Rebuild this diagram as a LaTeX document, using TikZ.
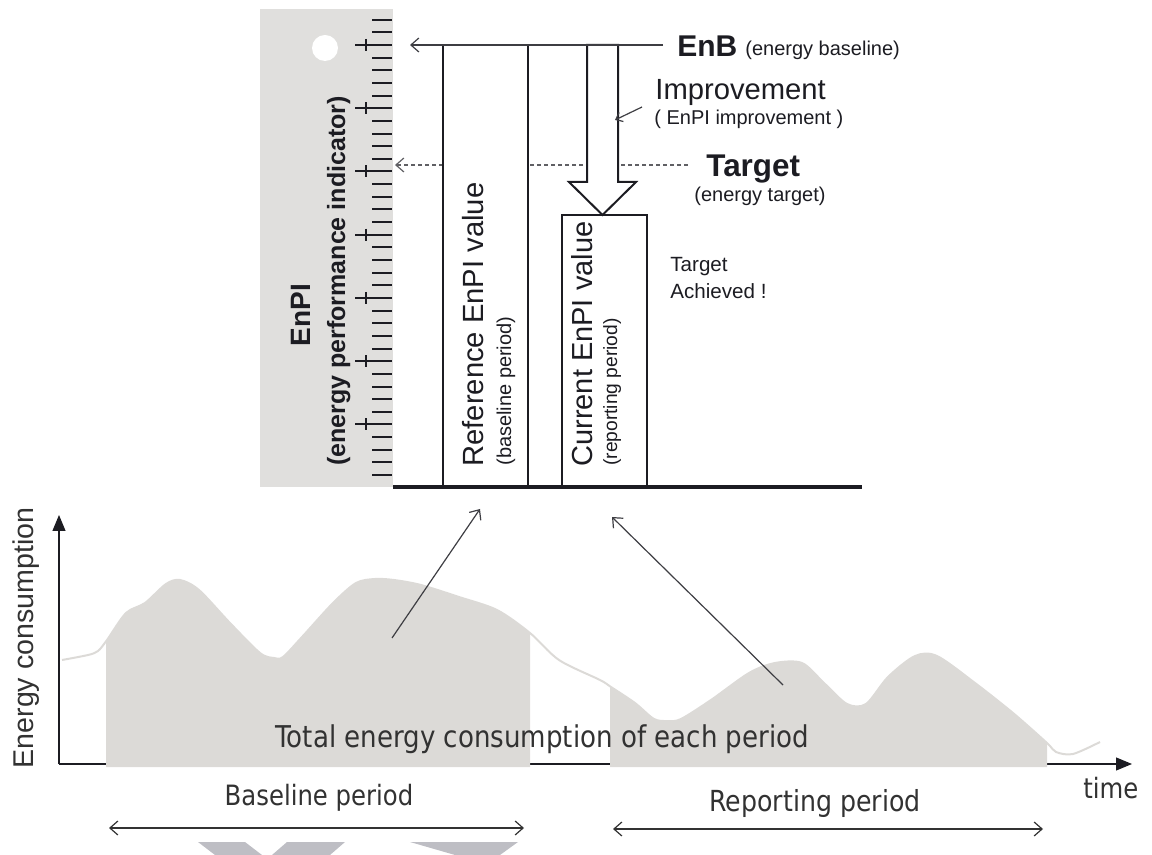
\documentclass[tikz,border=0pt]{standalone}
\usepackage{fontspec}
\setmainfont{Liberation Sans}
\newfontfamily\chartfont[FakeStretch=0.87]{DejaVu Sans}
\usetikzlibrary{arrows.meta,positioning}

\definecolor{rulergray}{RGB}{224,223,221}
\definecolor{areagray}{RGB}{220,218,215}
\definecolor{markgray}{RGB}{190,190,196}
\definecolor{ink}{RGB}{28,28,34}
\definecolor{chartink}{RGB}{50,50,50}
\newcommand{\fsz}[2]{\fontsize{#1}{#2}\selectfont}

\begin{document}
\begin{tikzpicture}
    [
    x=0.5pt, y=-0.5pt,
    txt/.style={inner sep=0pt, text=ink},
    charttxt/.style={inner sep=0pt, text=chartink, font=\chartfont\fsz{14}{17}},
    tick/.style={line width=1pt, draw=ink},
    bar/.style={draw=ink, line width=0.75pt, fill=white},
    pointer/.style={draw=ink!85, line width=0.6pt,
      -{Straight Barb[length=4pt,width=7pt]}},
    span/.style={draw=chartink, line width=0.6pt,
      {Straight Barb[length=4pt,width=7pt]}-{Straight Barb[length=4pt,width=7pt]}},
    axis/.style={draw=ink, line width=0.6pt,
      -{Triangle[length=8pt,width=6.5pt]}}
    ]
    \useasboundingbox (0,0) rectangle (1152,855);

    % The ruler on the left
    \fill[rulergray] (260,9) rectangle (393,487);
    \fill[white] (325,48) circle (13);
    \foreach \i in {0,...,36} {
      \pgfmathsetmacro{\ty}{19.7+12.65*\i}
      \pgfmathtruncatemacro{\tk}{mod(\i,5)}
      \ifnum\tk=2
        \draw[tick] (355,\ty) -- (392,\ty) (366,\ty-6) -- (366,\ty+6);
      \else
        \draw[tick] (372,\ty) -- (392,\ty);
      \fi
    }
    \node[txt, rotate=90, anchor=base, font=\bfseries\fsz{14}{17}] (enpi) at (310,315) {EnPI};
    \node[txt, rotate=90, anchor=base, font=\bfseries\fsz{12.5}{15}] (enpidef) at (345,281) {(energy performance indicator)};

    % Target level
    \coordinate (tgtend) at (688,165);
    \coordinate (tgttip) at (395,165);
    \draw[pointer, draw=ink!70, dash pattern=on 2pt off 1.5pt] (tgtend) -- (tgttip);

    % The two bars and the improvement arrow
    \draw[bar] (443,45) rectangle (528,487);
    \draw[bar] (562,215) rectangle (647,487);
    \draw[draw=ink, line width=1pt, fill=white, line join=miter]
      (587,45) -- (587,182) -- (569,182) -- (602.5,215) -- (636,182)
      -- (618,182) -- (618,45) -- cycle;

    % Baseline level
    \coordinate (enbend) at (663,45);
    \coordinate (enbtip) at (410,45);
    \draw[pointer] (enbend) -- (enbtip);
    \draw[line width=1.6pt, draw=ink] (393,487) -- (862,487);

    \node[txt, rotate=90, anchor=base west, font=\fsz{14.6}{17}] (refval) at (483,467) {Reference EnPI value};
    \node[txt, rotate=90, anchor=base west, font=\fsz{10}{12}] (refper) at (511,466) {(baseline period)};
    \node[txt, rotate=90, anchor=base west, font=\fsz{14.5}{17}] (curval) at (592,467) {Current EnPI value};
    \node[txt, rotate=90, anchor=base west, font=\fsz{9.6}{12}] (curper) at (617,466) {(reporting period)};

    % Labels on the right
    \node[txt, anchor=base west, font=\bfseries\fsz{15}{18}] (enb) at (677,57) {EnB};
    \node[txt, anchor=base west, font=\fsz{10}{12}] (enbdef) at (745,56) {(energy baseline)};
    \node[txt, anchor=base west, font=\fsz{14.6}{17}] (impr) at (655,100) {Improvement};
    \node[txt, anchor=base west, font=\fsz{10}{12}] (imprdef) at (654,125) {( EnPI improvement )};
    \node[txt, anchor=base west, font=\bfseries\fsz{15.7}{18}] (tgt) at (706,177) {Target};
    \node[txt, anchor=base west, font=\fsz{10}{12}] (tgtdef) at (694,202) {(energy target)};
    \node[txt, anchor=north west, align=left, font=\fsz{10.3}{13.5}] (done) at (670,257) {Target\\Achieved !};
    \coordinate (imprtail) at (642,107);
    \coordinate (imprhead) at (615,120);
    \draw[pointer, -{Straight Barb[length=3pt,width=5pt]}] (imprtail) -- (imprhead);

    % Energy consumption chart
    \coordinate (origin) at (59,764);
    \coordinate (ytip) at (59,515);
    \coordinate (xtip) at (1132,764);
    \draw[axis] (origin) -- (ytip);
    \draw[axis] (origin) -- (xtip);

    \draw[areagray, line width=1pt] plot[smooth, tension=0.5] coordinates {
      (62,660) (88,655) (98,651) (107,640) (126,613) (145,603) (166,584)
      (180,580) (199,590) (230,623) (260,653) (274,658) (283,657) (302,637)
      (333,603) (356,583) (375,579) (394,580) (421,585) (459,597) (497,610)
      (530,633) (559,660) (600,680) (611,687) (635,703) (654,719) (668,721)
      (681,719) (711,700) (749,673) (775,663) (802,663) (824,683) (847,704)
      (866,704) (888,677) (915,656) (937,656) (975,683) (1013,713) (1047,743)
      (1056,752) (1073,754) (1100,742)};
    \begin{scope}
      \clip (106,500) rectangle (530,767) (610,500) rectangle (1047,767);
      \fill[areagray] (62,767) -- plot[smooth, tension=0.5] coordinates {
        (62,660) (88,655) (98,651) (107,640) (126,613) (145,603) (166,584)
        (180,580) (199,590) (230,623) (260,653) (274,658) (283,657) (302,637)
        (333,603) (356,583) (375,579) (394,580) (421,585) (459,597) (497,610)
        (530,633) (559,660) (600,680) (611,687) (635,703) (654,719) (668,721)
        (681,719) (711,700) (749,673) (775,663) (802,663) (824,683) (847,704)
        (866,704) (888,677) (915,656) (937,656) (975,683) (1013,713) (1047,743)
        (1056,752) (1073,754) (1100,742)} -- (1100,767) -- cycle;
    \end{scope}

    \node[txt, rotate=90, anchor=base, font=\fsz{14.3}{17}, text=chartink] (ylabel) at (33,638) {Energy consumption};
    \node[charttxt, anchor=base west] (xlabel) at (1083,798) {time};
    \node[charttxt, anchor=base west, font=\chartfont\fsz{15}{18}] (total) at (275,747) {Total energy consumption of each period};

    % Pointers from each period to its bar
    \coordinate (basesrc) at (392,638);
    \coordinate (basedst) at (480,509);
    \coordinate (repsrc) at (783,685);
    \coordinate (repdst) at (612,517);
    \draw[pointer] (basesrc) -- (basedst);
    \draw[pointer] (repsrc) -- (repdst);

    % Periods
    \node[charttxt, anchor=base] (baselbl) at (319,805) {Baseline period};
    \node[charttxt, anchor=base, font=\chartfont\fsz{14.5}{17}] (replbl) at (815,811) {Reporting period};
    \coordinate (basel) at (109,828);
    \coordinate (baser) at (524,828);
    \coordinate (repl) at (613,829);
    \coordinate (repr) at (1043,829);
    \draw[span] (basel) -- (baser);
    \draw[span] (repl) -- (repr);

    % Marks at the lower edge
    \fill[markgray] (198,842) -- (245,842) -- (262,855) -- (215,855) -- cycle;
    \fill[markgray] (287,842) -- (345,842) -- (330,855) -- (272,855) -- cycle;
    \fill[markgray] (410,842) -- (518,842) -- (500,855) -- (455,855) -- cycle;
\end{tikzpicture}
\end{document}
